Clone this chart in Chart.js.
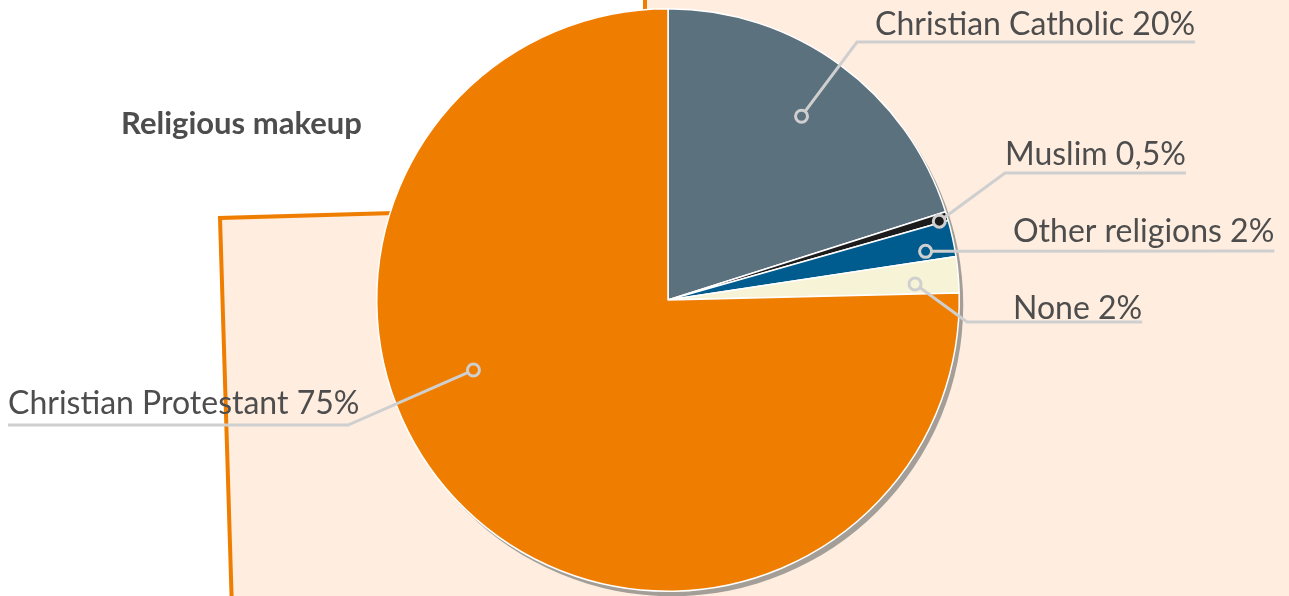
<!DOCTYPE html>
<html lang="en">
  <head>
    <meta charset="UTF-8" />
    <title>Religious makeup</title>
    <style>
      body {
        margin: 0;
        padding: 0;
        background: #ffffff;
        overflow: hidden;
      }
      #wrap {
        position: relative;
        width: 1289px;
        height: 596px;
      }
    </style>
    <script src="https://cdn.jsdelivr.net/npm/chart.js"></script>
  </head>
  <body>
    <div id="wrap">
      <canvas id="religionChart" width="1289" height="596"></canvas>
    </div>
    <script>
      // data
      const religions = ["Christian Catholic", "Muslim", "Other religions", "None", "Christian Protestant"];
      const shares = [20, 0.5, 2, 2, 75];
      const shareLabels = ["20%", "0,5%", "2%", "2%", "75%"];
      const sliceColors = ["#5b717d", "#1c1c1c", "#005b8f", "#f7f3d6", "#ef7d00"];

      const FONT = "Lato, 'Open Sans', sans-serif";
      const TEXT_COLOR = "#4d4d4d";
      const LINE_COLOR = "#cfcfcf";

      // where the callouts go: anchor is an angle (deg from 12 o'clock) + radius fraction
      const callouts = [
        { angle: 36, r: 0.78, elbow: [857, 42], textX: 875, baseY: 35, align: "left" },
        { angle: 73.8, r: 0.97, elbow: [1005, 173], textX: 1005, baseY: 165, align: "left" },
        { angle: 79.3, r: 0.9, elbow: null, lineY: 251, textX: 1013, baseY: 242, align: "left" },
        { angle: 86.3, r: 0.85, elbow: [967, 322], textX: 1013, baseY: 319, align: "left" },
        { angle: 250.2, r: 0.71, elbow: [348, 425], textX: 8, baseY: 414, align: "right" },
      ];

      const backdrop = {
        id: "backdrop",
        beforeDraw(chart) {
          const c = chart.ctx;
          c.save();
          c.fillStyle = "#ffeddf";
          c.strokeStyle = "#ef7d00";
          c.lineWidth = 4;
          c.beginPath();
          c.moveTo(232, 610);
          c.lineTo(220, 218);
          c.lineTo(500, 210);
          c.lineTo(645, 10);
          c.lineTo(645, -10);
          c.lineTo(1300, -10);
          c.lineTo(1300, 610);
          c.closePath();
          c.fill();
          c.stroke();

          c.fillStyle = TEXT_COLOR;
          c.font = "bold 31px " + FONT;
          c.textBaseline = "alphabetic";
          c.fillText("Religious makeup", 121, 134);
          c.restore();
        },
        beforeDatasetsDraw(chart) {
          const arc = chart.getDatasetMeta(0).data[0];
          const c = chart.ctx;
          c.save();
          c.fillStyle = "#a39e98";
          c.beginPath();
          c.arc(arc.x + 4, arc.y + 5, arc.outerRadius, 0, Math.PI * 2);
          c.fill();
          c.restore();
        },
      };

      const calloutPlugin = {
        id: "callouts",
        afterDatasetsDraw(chart) {
          const arc0 = chart.getDatasetMeta(0).data[0];
          const cx = arc0.x, cy = arc0.y, R = arc0.outerRadius;
          const c = chart.ctx;
          c.save();
          c.font = "32px " + FONT;
          c.textBaseline = "alphabetic";
          religions.forEach((name, i) => {
            const co = callouts[i];
            const a = (co.angle * Math.PI) / 180;
            const px = cx + Math.sin(a) * R * co.r;
            const py = cy - Math.cos(a) * R * co.r;
            const label = name + " " + shareLabels[i];
            const w = c.measureText(label).width;

            c.strokeStyle = LINE_COLOR;
            c.lineWidth = 3;
            c.beginPath();
            c.moveTo(px, py);
            if (co.align === "left") {
              if (co.elbow) {
                c.lineTo(co.elbow[0], co.elbow[1]);
                c.lineTo(co.textX + w, co.elbow[1]);
              } else {
                c.lineTo(co.textX + w, co.lineY);
              }
            } else {
              c.lineTo(co.elbow[0], co.elbow[1]);
              c.lineTo(co.textX, co.elbow[1]);
            }
            c.stroke();

            c.fillStyle = sliceColors[i];
            c.beginPath();
            c.arc(px, py, 6, 0, Math.PI * 2);
            c.fill();
            c.stroke();

            c.fillStyle = TEXT_COLOR;
            c.fillText(label, co.textX, co.baseY);
          });
          c.restore();
        },
      };

      new Chart(document.getElementById("religionChart"), {
        type: "pie",
        data: {
          labels: religions,
          datasets: [
            {
              data: shares,
              backgroundColor: sliceColors,
              borderColor: "#ffffff",
              borderWidth: 1.5,
            },
          ],
        },
        options: {
          responsive: false,
          animation: false,
          layout: { padding: { left: 376, right: 329, top: 8, bottom: 4 } },
          plugins: {
            legend: { display: false },
            tooltip: { enabled: false },
          },
        },
        plugins: [backdrop, calloutPlugin],
      });
    </script>
  </body>
</html>
